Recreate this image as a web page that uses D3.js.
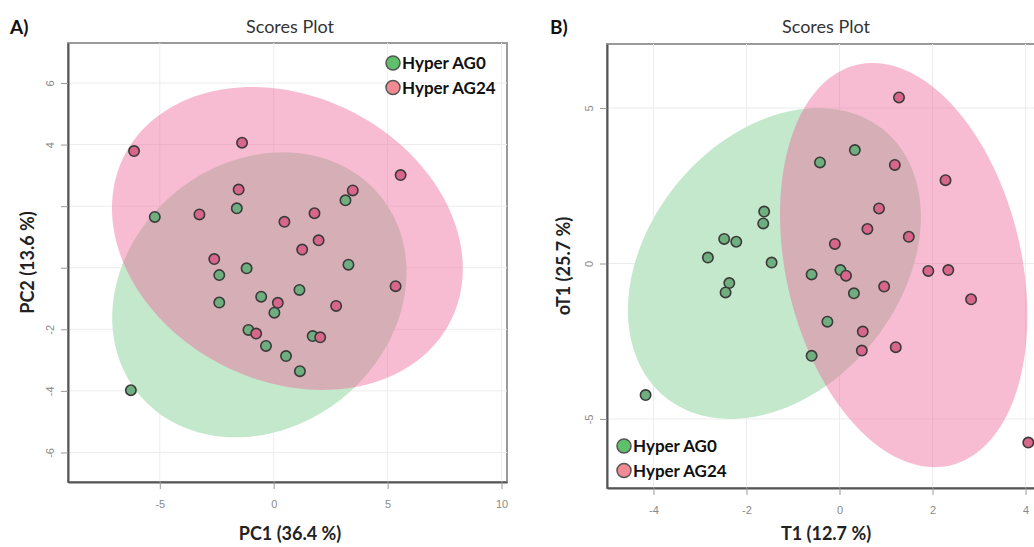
<!DOCTYPE html>
<html>
<head>
<meta charset="utf-8">
<script src="https://cdn.jsdelivr.net/npm/d3@7"></script>
<style>
  body { margin: 0; background: #fff; }
  svg { display: block; font-family: Lato, "Open Sans", sans-serif; }
</style>
</head>
<body>
<svg id="chart" width="1034" height="547"></svg>
<script>
/* group names */
var groups = ["Hyper AG0", "Hyper AG24"];

/* A) PCA scores */
var pcaAG0_x  = [-5.22, -1.62, -1.19, -2.39, 3.15, 3.28, 1.13, -2.39, -0.55, 0.03, -1.11, -0.34, 0.54, 1.15, 1.71, -6.27];
var pcaAG0_y  = [1.65, 1.93, -0.02, -0.24, 2.19, 0.10, -0.72, -1.13, -0.94, -1.46, -2.02, -2.54, -2.87, -3.36, -2.22, -3.98];
var pcaAG24_x = [-6.13, -1.39, -1.54, -3.26, 0.47, -2.61, 5.57, 3.47, 1.79, 1.97, 1.25, 5.35, 0.18, -0.77, 2.74, 2.04];
var pcaAG24_y = [3.79, 4.06, 2.54, 1.73, 1.49, 0.28, 3.01, 2.51, 1.77, 0.89, 0.59, -0.60, -1.14, -2.14, -1.24, -2.26];

/* B) OPLS-DA scores */
var oplsAG0_x  = [-1.62, -1.64, -2.48, -2.22, -2.83, -1.46, -2.37, -2.45, -4.17, 0.33, -0.42, -0.60, 0.02, 0.31, -0.26, -0.60];
var oplsAG0_y  = [1.67, 1.29, 0.79, 0.70, 0.19, 0.03, -0.63, -0.93, -4.23, 3.65, 3.25, -0.35, -0.21, -0.96, -1.87, -2.97];
var oplsAG24_x = [1.28, 1.19, 2.28, 0.85, 0.60, 1.49, -0.10, 0.14, 1.91, 2.34, 0.96, 2.83, 0.50, 0.48, 1.21, 4.06];
var oplsAG24_y = [5.34, 3.17, 2.68, 1.77, 1.11, 0.86, 0.63, -0.39, -0.24, -0.21, -0.74, -1.15, -2.19, -2.80, -2.69, -5.76];

/* 95% ellipses: centre x, centre y, half width, half height, correlation */
var pcaEllipseAG0   = [-0.63, -0.88, 6.46, 4.63, 0.16];
var pcaEllipseAG24  = [0.60, 0.95, 7.70, 4.92, -0.20];
var oplsEllipseAG0  = [-1.40, 0.00, 3.15, 5.00, 0.30];
var oplsEllipseAG24 = [1.38, -0.05, 2.66, 6.50, -0.25];

/* axes */
var pcaXTicks  = [-5, 0, 5, 10];
var pcaYTicks  = [6, 4, 2, 0, -2, -4, -6];
var pcaYLabels = ["6", "4", "", "", "-2", "-4", "-6"];
var oplsXTicks = [-4, -2, 0, 2, 4];
var oplsYTicks = [5, 0, -5];
var oplsYLabels = ["5", "0", "-5"];

var pointFill  = ["#6fae7e", "#d8658a"];
var legendFill = ["#5fc06c", "#f28a93"];
var ellipseFill = ["#c4e8cc", "rgb(238,107,155)"];
var ellipseOpacity = [1, 0.45];

var svg = d3.select("#chart");

function zip(xs, ys) {
  return xs.map(function(v, i) { return [v, ys[i]]; });
}

// ellipse outline in data units (cholesky style param)
function ellipsePoints(e) {
  var pts = [];
  var k = Math.sqrt(1 - e[4] * e[4]);
  for (var i = 0; i < 160; i++) {
    var t = i / 160 * 2 * Math.PI;
    pts.push([e[0] + e[2] * Math.cos(t), e[1] + e[3] * (e[4] * Math.cos(t) + k * Math.sin(t))]);
  }
  return pts;
}

function drawPanel(cfg) {
  var x = d3.scaleLinear().domain(cfg.xDomain).range([cfg.left, cfg.left + cfg.width]);
  var y = d3.scaleLinear().domain(cfg.yDomain).range([cfg.top + cfg.height, cfg.top]);
  var g = svg.append("g");

  g.append("clipPath").attr("id", cfg.id + "-clip")
    .append("rect")
      .attr("x", cfg.left).attr("y", cfg.top)
      .attr("width", cfg.width).attr("height", cfg.height);

  // frame
  g.append("rect")
    .attr("x", cfg.left).attr("y", cfg.top)
    .attr("width", cfg.width).attr("height", cfg.height)
    .attr("fill", "#fff")
    .attr("stroke", "#9a9a9a")
    .attr("stroke-width", 2);

  var inner = g.append("g").attr("clip-path", "url(#" + cfg.id + "-clip)");

  // grid
  inner.selectAll(".vgrid").data(cfg.xTicks).enter().append("line")
    .attr("x1", function(d) { return x(d); }).attr("x2", function(d) { return x(d); })
    .attr("y1", cfg.top).attr("y2", cfg.top + cfg.height)
    .attr("stroke", "#ececec");
  inner.selectAll(".hgrid").data(cfg.yTicks).enter().append("line")
    .attr("y1", function(d) { return y(d); }).attr("y2", function(d) { return y(d); })
    .attr("x1", cfg.left).attr("x2", cfg.left + cfg.width)
    .attr("stroke", "#ececec");

  // ellipses
  var line = d3.line()
    .x(function(d) { return x(d[0]); })
    .y(function(d) { return y(d[1]); })
    .curve(d3.curveLinearClosed);
  cfg.ellipses.forEach(function(e, i) {
    inner.append("path")
      .attr("d", line(ellipsePoints(e)))
      .attr("fill", ellipseFill[i])
      .attr("fill-opacity", ellipseOpacity[i]);
  });

  // points
  cfg.series.forEach(function(s, i) {
    inner.selectAll(".pt" + i).data(s).enter().append("circle")
      .attr("cx", function(d) { return x(d[0]); })
      .attr("cy", function(d) { return y(d[1]); })
      .attr("r", 5.2)
      .attr("fill", pointFill[i])
      .attr("stroke", "#3a3a3a")
      .attr("stroke-width", 1.6);
  });

  // x axis
  var xAxis = g.append("g")
    .attr("transform", "translate(0," + (cfg.top + cfg.height) + ")")
    .call(d3.axisBottom(x).tickValues(cfg.xTicks).tickSize(7).tickPadding(11).tickSizeOuter(0)
      .tickFormat(function(d) { return String(d); }));
  // y axis
  var yAxis = g.append("g")
    .attr("transform", "translate(" + cfg.left + ",0)")
    .call(d3.axisLeft(y).tickValues(cfg.yTicks).tickSize(7).tickSizeOuter(0)
      .tickFormat(function(d, i) { return cfg.yLabels[i]; }));
  yAxis.selectAll("text")
    .attr("x", 0).attr("y", -14).attr("dy", 0)
    .attr("transform", "rotate(-90)")
    .attr("text-anchor", "middle");

  [xAxis, yAxis].forEach(function(a) {
    a.select(".domain").attr("stroke", "#555").attr("stroke-width", 2);
    a.selectAll(".tick line").attr("stroke", "#999");
    a.selectAll("text").attr("fill", "#8a8a8a").style("font-size", "11px");
  });

  // texts
  svg.append("text")
    .attr("x", cfg.titleX).attr("y", 33)
    .attr("text-anchor", "middle")
    .attr("fill", "#333")
    .style("font-size", "18px")
    .text("Scores Plot");
  svg.append("text")
    .attr("x", cfg.letterX).attr("y", 34)
    .attr("fill", "#111")
    .style("font-size", "19px").style("font-weight", "bold")
    .text(cfg.letter);
  svg.append("text")
    .attr("x", cfg.titleX).attr("y", 540)
    .attr("text-anchor", "middle")
    .attr("fill", "#222")
    .style("font-size", "18px").style("font-weight", "bold")
    .text(cfg.xLabel);
  svg.append("text")
    .attr("transform", "translate(" + cfg.yLabelX + "," + (cfg.top + cfg.height / 2) + ") rotate(-90)")
    .attr("text-anchor", "middle")
    .attr("fill", "#222")
    .style("font-size", "18px").style("font-weight", "bold")
    .text(cfg.yLabel);

  // legend
  groups.forEach(function(name, i) {
    var ly = cfg.legendY + i * 24.5;
    svg.append("circle")
      .attr("cx", cfg.legendX).attr("cy", ly)
      .attr("r", 7)
      .attr("fill", legendFill[i])
      .attr("stroke", "#555")
      .attr("stroke-width", 1.5);
    svg.append("text")
      .attr("x", cfg.legendX + 9).attr("y", ly + 6)
      .attr("fill", "#111")
      .style("font-size", "17px").style("font-weight", "bold")
      .text(name);
  });
}

drawPanel({
  id: "pca", letter: "A)", letterX: 10,
  left: 68, top: 43, width: 439, height: 439,
  xDomain: [-9.03, 10.24], yDomain: [-6.96, 7.3],
  xTicks: pcaXTicks, yTicks: pcaYTicks, yLabels: pcaYLabels,
  series: [zip(pcaAG0_x, pcaAG0_y), zip(pcaAG24_x, pcaAG24_y)],
  ellipses: [pcaEllipseAG0, pcaEllipseAG24],
  titleX: 290, xLabel: "PC1 (36.4 %)", yLabelX: 34, yLabel: "PC2 (13.6 %)",
  legendX: 393, legendY: 63
});

drawPanel({
  id: "opls", letter: "B)", letterX: 550,
  left: 607, top: 44, width: 465, height: 444,
  xDomain: [-5, 5], yDomain: [-7.22, 7.06],
  xTicks: oplsXTicks, yTicks: oplsYTicks, yLabels: oplsYLabels,
  series: [zip(oplsAG0_x, oplsAG0_y), zip(oplsAG24_x, oplsAG24_y)],
  ellipses: [oplsEllipseAG0, oplsEllipseAG24],
  titleX: 826, xLabel: "T1 (12.7 %)", yLabelX: 570, yLabel: "oT1 (25.7 %)",
  legendX: 624, legendY: 446
});
</script>
</body>
</html>
